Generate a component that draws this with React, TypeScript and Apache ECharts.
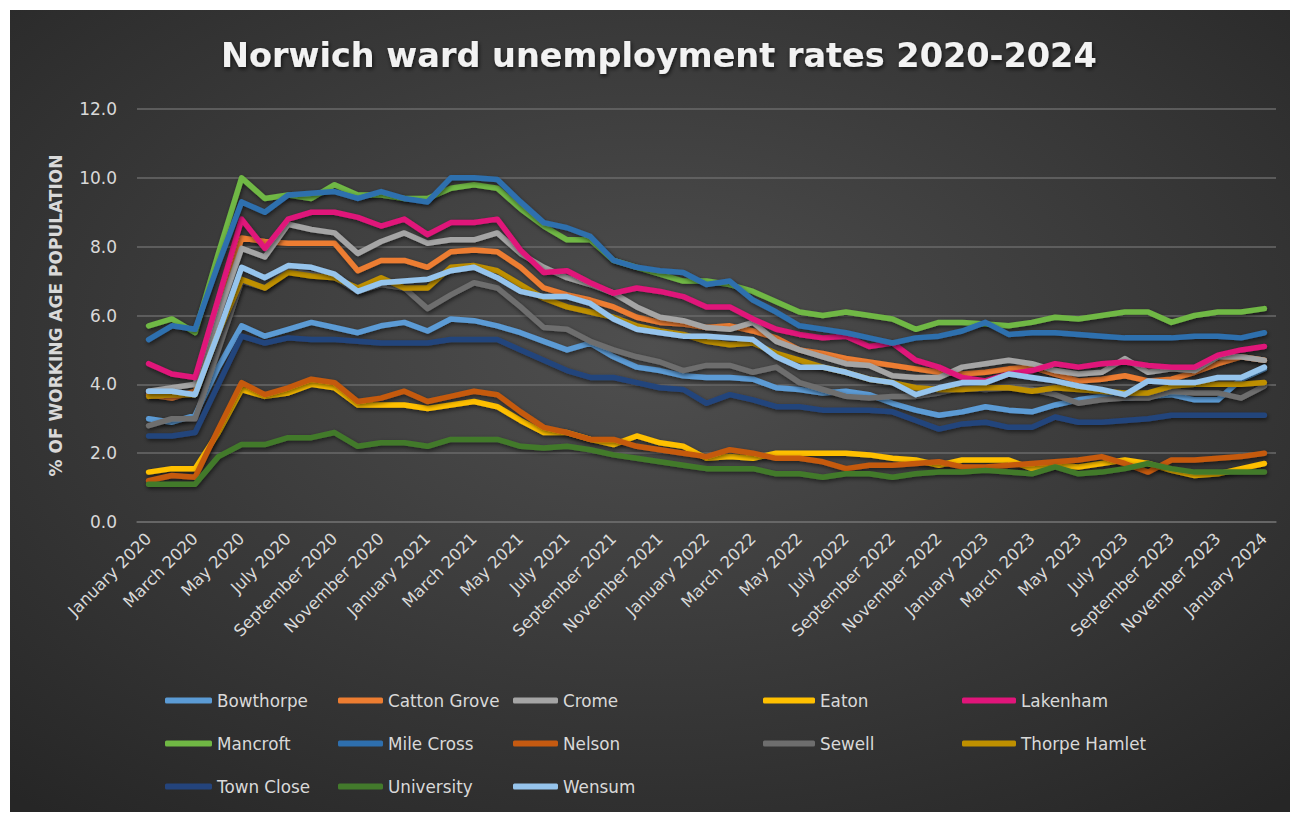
import React, { useEffect, useRef } from "react";
import * as echarts from "echarts";

const MONTHS = [
  "January 2020", "February 2020", "March 2020", "April 2020", "May 2020", "June 2020",
  "July 2020", "August 2020", "September 2020", "October 2020", "November 2020", "December 2020",
  "January 2021", "February 2021", "March 2021", "April 2021", "May 2021", "June 2021",
  "July 2021", "August 2021", "September 2021", "October 2021", "November 2021", "December 2021",
  "January 2022", "February 2022", "March 2022", "April 2022", "May 2022", "June 2022",
  "July 2022", "August 2022", "September 2022", "October 2022", "November 2022", "December 2022",
  "January 2023", "February 2023", "March 2023", "April 2023", "May 2023", "June 2023",
  "July 2023", "August 2023", "September 2023", "October 2023", "November 2023", "December 2023",
  "January 2024",
];

const Y_TICKS = [0, 2, 4, 6, 8, 10, 12];

const bowthorpe = [3.0,2.9,3.1,4.5,5.7,5.4,5.6,5.8,5.65,5.5,5.7,5.8,5.55,5.9,5.85,5.7,5.5,5.25,5.0,5.2,4.8,4.5,4.4,4.25,4.2,4.2,4.15,3.9,3.85,3.75,3.8,3.7,3.45,3.25,3.1,3.2,3.35,3.25,3.2,3.4,3.55,3.65,3.6,3.65,3.7,3.55,3.55,4.15,4.45];
const cattonGrove = [3.7,3.6,3.8,6.0,8.25,8.15,8.1,8.1,8.1,7.3,7.6,7.6,7.4,7.85,7.9,7.85,7.4,6.8,6.6,6.45,6.25,5.95,5.8,5.75,5.65,5.7,5.55,5.35,5.0,4.9,4.75,4.65,4.55,4.45,4.35,4.3,4.35,4.45,4.5,4.3,4.1,4.15,4.25,4.1,4.15,4.35,4.6,4.8,4.7];
const crome = [3.8,3.9,4.0,6.0,7.95,7.7,8.65,8.5,8.4,7.8,8.15,8.4,8.1,8.2,8.2,8.4,7.8,7.4,7.1,6.9,6.65,6.25,5.95,5.85,5.65,5.6,5.8,5.25,5.0,4.8,4.6,4.55,4.25,4.2,4.2,4.5,4.6,4.7,4.6,4.4,4.3,4.35,4.75,4.35,4.45,4.4,4.8,4.8,4.7];
const eaton = [1.45,1.55,1.55,2.6,3.85,3.65,3.75,4.0,3.9,3.4,3.4,3.4,3.3,3.4,3.5,3.35,2.95,2.6,2.6,2.4,2.25,2.5,2.3,2.2,1.85,1.9,1.85,2.0,2.0,2.0,2.0,1.95,1.85,1.8,1.65,1.8,1.8,1.8,1.55,1.65,1.6,1.7,1.8,1.7,1.5,1.35,1.4,1.55,1.7];
const lakenham = [4.6,4.3,4.2,6.5,8.8,7.95,8.8,9.0,9.0,8.85,8.6,8.8,8.35,8.7,8.7,8.8,7.9,7.25,7.3,6.95,6.65,6.8,6.7,6.55,6.25,6.25,5.9,5.6,5.45,5.35,5.4,5.1,5.2,4.7,4.5,4.2,4.1,4.3,4.4,4.6,4.5,4.6,4.65,4.55,4.5,4.5,4.85,5.0,5.1];
const mancroft = [5.7,5.9,5.5,7.8,10.0,9.4,9.5,9.4,9.8,9.5,9.5,9.4,9.4,9.7,9.8,9.7,9.1,8.6,8.2,8.2,7.6,7.4,7.2,7.0,7.0,6.9,6.7,6.4,6.1,6.0,6.1,6.0,5.9,5.6,5.8,5.8,5.75,5.7,5.8,5.95,5.9,6.0,6.1,6.1,5.8,6.0,6.1,6.1,6.2];
const mileCross = [5.3,5.7,5.6,7.5,9.3,9.0,9.5,9.55,9.6,9.4,9.6,9.4,9.3,10.0,10.0,9.95,9.3,8.7,8.55,8.3,7.6,7.4,7.3,7.25,6.9,7.0,6.45,6.1,5.7,5.6,5.5,5.35,5.2,5.35,5.4,5.55,5.8,5.45,5.5,5.5,5.45,5.4,5.35,5.35,5.35,5.4,5.4,5.35,5.5];
const nelson = [1.2,1.35,1.3,2.7,4.05,3.7,3.9,4.15,4.05,3.5,3.6,3.8,3.5,3.65,3.8,3.7,3.2,2.75,2.6,2.4,2.4,2.2,2.1,2.0,1.9,2.1,2.0,1.85,1.85,1.75,1.55,1.65,1.65,1.7,1.75,1.6,1.6,1.65,1.7,1.75,1.8,1.9,1.7,1.45,1.8,1.8,1.85,1.9,2.0];
const sewell = [2.8,3.0,3.0,5.0,7.0,6.8,7.3,7.2,7.1,6.7,6.9,6.8,6.2,6.6,6.95,6.8,6.25,5.65,5.6,5.25,5.0,4.8,4.65,4.4,4.55,4.55,4.35,4.5,4.05,3.85,3.65,3.6,3.65,3.65,3.75,3.9,3.85,3.9,3.85,3.7,3.45,3.55,3.6,3.6,3.8,3.75,3.75,3.6,3.95];
const thorpeHamlet = [3.65,3.7,3.7,5.5,7.05,6.8,7.25,7.15,7.1,6.8,7.1,6.8,6.8,7.4,7.45,7.3,6.9,6.5,6.25,6.1,5.95,5.7,5.55,5.45,5.25,5.15,5.2,4.9,4.7,4.5,4.35,4.15,4.05,3.9,3.85,3.85,3.9,3.9,3.8,3.9,3.85,3.8,3.75,3.75,3.95,4.0,4.0,4.0,4.05];
const townClose = [2.5,2.5,2.6,4.0,5.4,5.2,5.35,5.3,5.3,5.25,5.2,5.2,5.2,5.3,5.3,5.3,5.0,4.7,4.4,4.2,4.2,4.05,3.9,3.85,3.45,3.7,3.55,3.35,3.35,3.25,3.25,3.25,3.2,2.95,2.7,2.85,2.9,2.75,2.75,3.05,2.9,2.9,2.95,3.0,3.1,3.1,3.1,3.1,3.1];
const university = [1.1,1.1,1.1,1.9,2.25,2.25,2.45,2.45,2.6,2.2,2.3,2.3,2.2,2.4,2.4,2.4,2.2,2.15,2.2,2.1,1.95,1.85,1.75,1.65,1.55,1.55,1.55,1.4,1.4,1.3,1.4,1.4,1.3,1.4,1.45,1.45,1.5,1.45,1.4,1.6,1.4,1.45,1.55,1.7,1.55,1.45,1.45,1.45,1.45];
const wensum = [3.8,3.8,3.7,5.5,7.4,7.1,7.45,7.4,7.2,6.7,6.95,7.0,7.05,7.3,7.4,7.1,6.7,6.55,6.55,6.35,5.9,5.6,5.5,5.4,5.4,5.35,5.3,4.8,4.5,4.5,4.35,4.15,4.05,3.7,3.9,4.05,4.05,4.3,4.2,4.1,3.95,3.85,3.7,4.1,4.05,4.05,4.2,4.2,4.5];

const WARDS = [
  "Bowthorpe", "Catton Grove", "Crome", "Eaton", "Lakenham", "Mancroft", "Mile Cross",
  "Nelson", "Sewell", "Thorpe Hamlet", "Town Close", "University", "Wensum",
];
const WARD_VALUES = [
  bowthorpe, cattonGrove, crome, eaton, lakenham, mancroft, mileCross,
  nelson, sewell, thorpeHamlet, townClose, university, wensum,
];
const WARD_COLORS = [
  "#5B9BD5", "#ED7D31", "#A5A5A5", "#FFC000", "#E0157A", "#70B844", "#2E6FAE",
  "#C55A11", "#6E6E6E", "#BF9000", "#24447C", "#437A2C", "#96C4EC",
];

const FONT = "DejaVu Sans";
const TEXT = "#d9d9d9";

// legend layout: [row centre y, icon left, icon width] per ward (page coords)
const LEGEND_POS: Record<string, [number, number, number]> = {
  "Bowthorpe": [703, 165, 47], "Catton Grove": [703, 338, 45], "Crome": [703, 513, 45], "Eaton": [703, 763, 52], "Lakenham": [703, 962, 54],
  "Mancroft": [746, 165, 47], "Mile Cross": [746, 338, 45], "Nelson": [746, 513, 45], "Sewell": [746, 763, 52], "Thorpe Hamlet": [746, 962, 54],
  "Town Close": [789, 165, 47], "University": [789, 338, 45], "Wensum": [789, 513, 45],
};

export default function App() {
  const ref = useRef<HTMLDivElement>(null);
  useEffect(() => {
    if (!ref.current) return;
    const chart = echarts.init(ref.current, undefined, { renderer: "svg" });
    const OX = 10, OY = 10;
    const legends = WARDS.map((w) => {
      const [y, x, iw] = LEGEND_POS[w];
      return {
        data: [w],
        left: x - OX,
        top: y - OY - 11,
        padding: 0,
        itemWidth: iw,
        itemHeight: 6,
        icon: "roundRect",
        textStyle: { color: TEXT, fontFamily: FONT, fontSize: 16.8 },
        selectedMode: false,
      };
    });
    chart.setOption({
      animation: false,
      backgroundColor: new echarts.graphic.RadialGradient(0.5, 0.42, 0.75, [
        { offset: 0, color: "#4f4f4f" },
        { offset: 1, color: "#262626" },
      ]),
      title: {
        text: "Norwich ward unemployment rates 2020-2024",
        left: 211,
        top: 28,
        padding: 0,
        textStyle: {
          color: "#f2f2f2",
          fontFamily: FONT,
          fontWeight: "bold",
          fontSize: 33.5,
          textShadowColor: "rgba(0,0,0,0.7)",
          textShadowBlur: 4,
          textShadowOffsetX: 1,
          textShadowOffsetY: 2,
        },
      },
      legend: legends,
      grid: {
        left: 127,
        right: 14,
        top: 99,
        bottom: 290,
        containLabel: false,
        outerBoundsMode: "none",
      },
      xAxis: {
        type: "category",
        data: MONTHS,
        boundaryGap: true,
        axisLine: { show: true, lineStyle: { color: "#6a6a6a", width: 1.5 } },
        axisTick: { show: false },
        axisLabel: {
          interval: 1,
          rotate: 45,
          color: TEXT,
          fontFamily: FONT,
          fontSize: 16.5,
          margin: 14,
        },
      },
      yAxis: {
        type: "value",
        min: Y_TICKS[0],
        max: Y_TICKS[Y_TICKS.length - 1],
        interval: 2,
        name: "% OF WORKING AGE POPULATION",
        nameLocation: "middle",
        nameRotate: 90,
        nameGap: 73,
        nameTextStyle: { color: TEXT, fontFamily: FONT, fontWeight: "bold", fontSize: 17 },
        axisLine: { show: false },
        axisTick: { show: false },
        axisLabel: {
          color: TEXT,
          fontFamily: FONT,
          fontSize: 17,
          margin: 20,
          formatter: (v: number) => v.toFixed(1),
        },
        splitLine: { lineStyle: { color: "#6a6a6a", width: 1.5 } },
      },
      series: WARDS.map((w, i) => ({
        name: w,
        type: "line",
        data: WARD_VALUES[i],
        symbol: "none",
        color: WARD_COLORS[i],
        lineStyle: {
          width: 5.5,
          color: WARD_COLORS[i],
          cap: "round",
          join: "round",
          shadowColor: "rgba(0,0,0,0.55)",
          shadowBlur: 4,
          shadowOffsetX: 1,
          shadowOffsetY: 2,
        },
      })),
    });
    return () => chart.dispose();
  }, []);
  return (
    <div
      ref={ref}
      style={{ position: "absolute", left: 10, top: 10, width: 1280, height: 802 }}
    />
  );
}
